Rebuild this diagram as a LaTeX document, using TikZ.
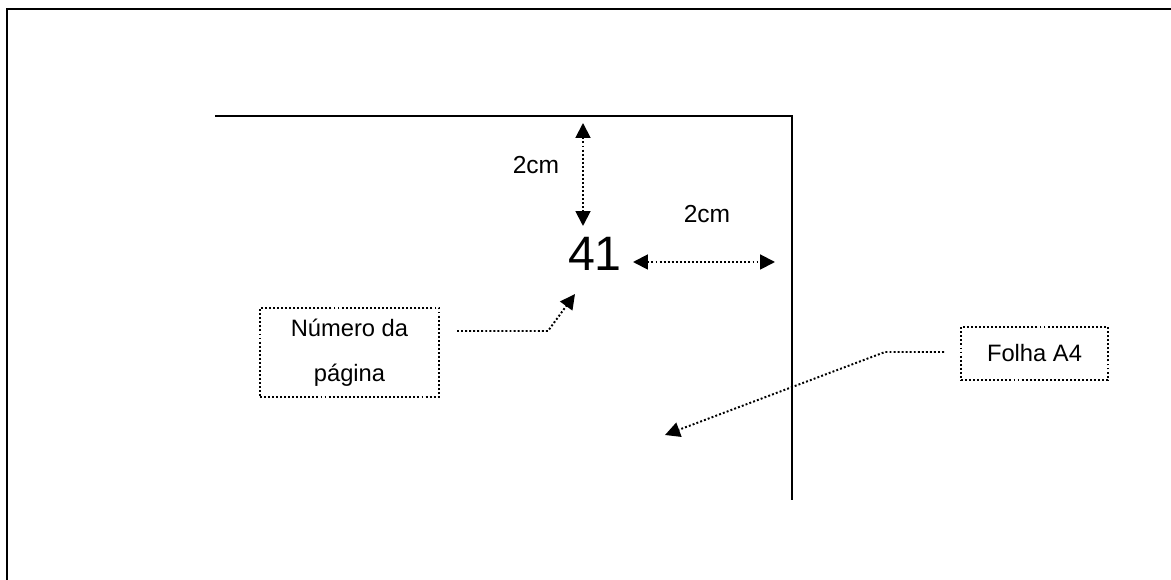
\documentclass[tikz,border=0pt]{standalone}
\usepackage{fontspec}
\setmainfont{Liberation Sans}
\usetikzlibrary{arrows.meta,positioning}
\tikzstyle{pg} = [black, line width=1.1pt]
\tikzstyle{dl} = [black, line width=1.1pt, dash pattern=on 1.1pt off 1.2pt, -{Triangle[length=8.5pt,width=8.5pt]}]
\tikzstyle{dd} = [dl, {Triangle[length=8.5pt,width=8.5pt]}-{Triangle[length=8.5pt,width=8.5pt]}]
\tikzstyle{bx} = [rectangle, draw=black, line width=1.1pt, dash pattern=on 1.1pt off 1.2pt, align=center, inner sep=0pt, font=\fontsize{13.5}{25.6}\selectfont]
\tikzstyle{lb} = [inner sep=0pt, font=\fontsize{14}{16}\selectfont]

\begin{document}
\begin{tikzpicture}
		[
			x=0.02cm, y=-0.02cm
		]
		\useasboundingbox (0,0) rectangle (1171,580);
		% sheet and page corner
		\draw[pg] (7,580) -- (7,9) -- (1171,9);
		\draw[pg] (215,116) -- (792,116) -- (792,500);
		% page number and margins
		\node[inner sep=0pt, font=\fontsize{27.5}{30}\selectfont] (num) at (595,254) {41};
		\coordinate (vtop) at (583,123);
		\coordinate (vbot) at (583,226);
		\coordinate (hlft) at (633,262);
		\coordinate (hrgt) at (775,262);
		\draw[dd] (vtop) -- (vbot);
		\draw[dd] (hlft) -- (hrgt);
		\node[lb] (vlbl) at (536,165) {2cm};
		\node[lb] (hlbl) at (707,214) {2cm};
		% callouts
		\node[bx, minimum width=102pt, minimum height=50.6pt] (pgbox) at (349.5,352.5) {Número da\\página};
		\node[bx, minimum width=83.7pt, minimum height=30.2pt] (a4box) at (1034.5,353.5) {Folha A4};
		\coordinate (pgtail) at (457,331);
		\coordinate (pgbend) at (548,331);
		\coordinate (pgtip) at (575,294);
		\coordinate (a4tail) at (944,352);
		\coordinate (a4bend) at (885,352);
		\coordinate (a4tip) at (665,435);
		\draw[dl] (pgtail) -- (pgbend) -- (pgtip);
		\draw[dl] (a4tail) -- (a4bend) -- (a4tip);
	\end{tikzpicture}
\end{document}
